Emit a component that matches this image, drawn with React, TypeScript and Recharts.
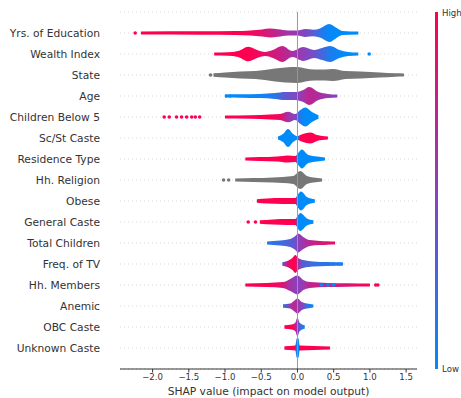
import {
  Area,
  CartesianGrid,
  ComposedChart,
  ReferenceLine,
  Scatter,
  XAxis,
  YAxis,
} from "recharts";

const FEATURES = [
  "Yrs. of Education",
  "Wealth Index",
  "State",
  "Age",
  "Children Below 5",
  "Sc/St Caste",
  "Residence Type",
  "Hh. Religion",
  "Obese",
  "General Caste",
  "Total Children",
  "Freq. of TV",
  "Hh. Members",
  "Anemic",
  "OBC Caste",
  "Unknown Caste",
];

const X_TICKS = [-2, -1.5, -1, -0.5, 0, 0.5, 1, 1.5];

// Each knot: [SHAP value, half spread of the swarm in row units, feature value 0 (low) .. 1 (high)]
// A null feature value means the feature is not coloured (categorical, drawn grey).
type Knot = [number, number, number | null];

const EDUCATION: Knot[] = [
  [-2.16, 0.07, 1], [-1.34, 0.08, 1], [-0.86, 0.09, 1], [-0.65, 0.12, 0.95],
  [-0.49, 0.17, 0.88], [-0.38, 0.21, 0.78], [-0.27, 0.18, 0.7], [-0.13, 0.12, 0.6],
  [0.0, 0.12, 0.55], [0.11, 0.19, 0.45], [0.22, 0.16, 0.33], [0.31, 0.22, 0.15],
  [0.44, 0.43, 0.03], [0.53, 0.26, 0], [0.62, 0.1, 0], [0.84, 0.07, 0],
];
const WEALTH: Knot[] = [
  [-1.15, 0.07, 1], [-0.96, 0.08, 1], [-0.82, 0.14, 1], [-0.68, 0.35, 1],
  [-0.54, 0.17, 0.95], [-0.45, 0.1, 0.88], [-0.34, 0.19, 0.82], [-0.21, 0.38, 0.74],
  [-0.07, 0.14, 0.62], [0.08, 0.33, 0.52], [0.23, 0.19, 0.4], [0.34, 0.29, 0.25],
  [0.45, 0.38, 0.1], [0.58, 0.19, 0.03], [0.7, 0.1, 0], [0.84, 0.07, 0],
];
const STATE: Knot[] = [
  [-1.16, 0.08, null], [-1.0, 0.12, null], [-0.79, 0.17, null], [-0.58, 0.19, null],
  [-0.45, 0.24, null], [-0.31, 0.31, null], [-0.17, 0.36, null], [0.0, 0.38, null],
  [0.11, 0.31, null], [0.24, 0.26, null], [0.38, 0.26, null], [0.49, 0.29, null],
  [0.66, 0.19, null], [0.87, 0.17, null], [1.14, 0.12, null], [1.35, 0.08, null],
  [1.47, 0.07, null],
];
const AGE: Knot[] = [
  [-1.0, 0.07, 0], [-0.79, 0.08, 0], [-0.52, 0.1, 0.05], [-0.31, 0.14, 0.15],
  [-0.17, 0.19, 0.35], [-0.03, 0.19, 0.45], [0.08, 0.29, 0.6], [0.16, 0.43, 0.72],
  [0.29, 0.19, 0.65], [0.42, 0.1, 0.55], [0.55, 0.07, 0.5],
];
const CHILDREN_BELOW_5: Knot[] = [
  [-1.0, 0.07, 1], [-0.65, 0.08, 1], [-0.38, 0.12, 1], [-0.24, 0.14, 0.92],
  [-0.13, 0.25, 0.6], [-0.03, 0.14, 0.5], [0.04, 0.33, 0.1], [0.11, 0.45, 0],
  [0.2, 0.24, 0], [0.29, 0.08, 0],
];
const SCST_CASTE: Knot[] = [
  [-0.27, 0.07, 0], [-0.2, 0.19, 0], [-0.13, 0.43, 0], [-0.06, 0.19, 0],
  [0.0, 0.08, 0], [0.04, 0.14, 1], [0.18, 0.26, 1], [0.27, 0.14, 1],
  [0.34, 0.1, 1], [0.42, 0.07, 1],
];
const RESIDENCE: Knot[] = [
  [-0.72, 0.07, 1], [-0.52, 0.09, 1], [-0.28, 0.12, 1], [-0.14, 0.17, 1],
  [-0.03, 0.14, 1], [0.01, 0.29, 0], [0.06, 0.45, 0], [0.15, 0.19, 0],
  [0.27, 0.12, 0], [0.38, 0.07, 0],
];
const RELIGION: Knot[] = [
  [-0.86, 0.07, null], [-0.61, 0.09, null], [-0.34, 0.12, null], [-0.06, 0.19, null],
  [0.04, 0.43, null], [0.13, 0.19, null], [0.22, 0.12, null], [0.34, 0.07, null],
];
const OBESE: Knot[] = [
  [-0.56, 0.08, 1], [-0.42, 0.12, 1], [-0.2, 0.14, 1], [-0.03, 0.14, 1],
  [0.01, 0.33, 0], [0.05, 0.45, 0], [0.13, 0.19, 0], [0.24, 0.08, 0],
];
const GENERAL_CASTE: Knot[] = [
  [-0.52, 0.08, 1], [-0.34, 0.12, 1], [-0.14, 0.14, 1], [-0.03, 0.14, 1],
  [0.01, 0.33, 0], [0.04, 0.43, 0], [0.13, 0.17, 0], [0.22, 0.08, 0],
];
const TOTAL_CHILDREN: Knot[] = [
  [-0.42, 0.07, 0.15], [-0.24, 0.12, 0.2], [-0.1, 0.19, 0.3], [-0.03, 0.33, 0.4],
  [0.01, 0.45, 0.5], [0.08, 0.29, 0.6], [0.17, 0.14, 0.7], [0.31, 0.1, 0.8],
  [0.41, 0.08, 0.85], [0.52, 0.07, 0.9],
];
const FREQ_TV: Knot[] = [
  [-0.21, 0.08, 0.3], [-0.14, 0.14, 0.85], [-0.07, 0.29, 1], [-0.03, 0.43, 1],
  [0.01, 0.29, 0.6], [0.08, 0.19, 0.3], [0.22, 0.12, 0.2], [0.41, 0.09, 0.15],
  [0.63, 0.07, 0.1],
];
const HH_MEMBERS: Knot[] = [
  [-0.72, 0.07, 1], [-0.42, 0.1, 1], [-0.2, 0.14, 0.85], [-0.1, 0.29, 0.6],
  [0.0, 0.45, 0.5], [0.08, 0.24, 0.55], [0.17, 0.14, 0.75], [0.41, 0.1, 0.7],
  [0.69, 0.08, 0.85], [1.0, 0.07, 1],
];
const ANEMIC: Knot[] = [
  [-0.2, 0.08, 0.1], [-0.1, 0.12, 0.6], [-0.05, 0.24, 0.7], [0.0, 0.36, 0.6],
  [0.06, 0.19, 0.5], [0.13, 0.12, 0.2], [0.22, 0.07, 0],
];
const OBC_CASTE: Knot[] = [
  [-0.18, 0.08, 1], [-0.08, 0.12, 1], [-0.03, 0.2, 0.8], [0.0, 0.45, 0.5],
  [0.03, 0.2, 0.3], [0.1, 0.08, 0],
];
const UNKNOWN_CASTE: Knot[] = [
  [-0.18, 0.08, 1], [-0.03, 0.12, 1], [-0.01, 0.45, 0], [0.015, 0.45, 0],
  [0.03, 0.12, 1], [0.22, 0.1, 1], [0.45, 0.07, 1],
];

const ROWS: Knot[][] = [
  EDUCATION, WEALTH, STATE, AGE, CHILDREN_BELOW_5, SCST_CASTE, RESIDENCE, RELIGION,
  OBESE, GENERAL_CASTE, TOTAL_CHILDREN, FREQ_TV, HH_MEMBERS, ANEMIC, OBC_CASTE, UNKNOWN_CASTE,
];

// isolated samples that sit apart from the swarm: [row, SHAP value, feature value]
const STRAY_POINTS: [number, number, number | null][] = [
  [0, -2.24, 1],
  [1, 0.99, 0],
  [2, -1.2, null],
  [3, -0.98, 0], [3, -0.93, 0],
  [4, -1.84, 1], [4, -1.77, 1], [4, -1.67, 1], [4, -1.6, 1],
  [4, -1.53, 1], [4, -1.46, 1], [4, -1.41, 1], [4, -1.35, 1],
  [7, -1.02, null], [7, -0.95, null],
  [9, -0.68, 1], [9, -0.58, 1],
  [11, 0.5, 0.1], [11, 0.56, 0.1], [11, 0.6, 0.1],
  [12, 0.33, 0], [12, 0.42, 0], [12, 0.5, 0], [12, 1.08, 1], [12, 1.11, 1],
];

const LOW = [0, 139, 251];
const MID = [138, 66, 190];
const HIGH = [255, 0, 81];
const GREY = "#777777";
const FONT = "DejaVu Sans, sans-serif";
const INK = "#333333";

const cmap = (t: number | null) => {
  if (t == null) return GREY;
  const [a, b, s] = t < 0.5 ? [LOW, MID, t * 2] : [MID, HIGH, (t - 0.5) * 2];
  return `rgb(${a.map((v, i) => Math.round(v + (b[i] - v) * s)).join(",")})`;
};

const fmtTick = (v: number) => v.toFixed(1).replace("-", "\u2212");

export default function App() {
  const bands = ROWS.map((knots, row) =>
    knots.map(([x, h]) => ({ x, band: [row - h, row + h] }))
  );
  const strays = STRAY_POINTS.map(([row, x, c]) => ({ x, y: row, c }));

  return (
    <div style={{ position: "absolute", left: 0, top: 0, width: 461, height: 398 }}>
      <ComposedChart
        width={461}
        height={398}
        margin={{ top: 12, right: 44, bottom: 0, left: 0 }}
      >
        <defs>
          {ROWS.map((knots, row) => {
            const lo = knots[0][0];
            const hi = knots[knots.length - 1][0];
            return (
              <linearGradient key={row} id={`swarm-${row}`} x1="0" y1="0" x2="1" y2="0">
                {knots.map(([x, , c], k) => (
                  <stop key={k} offset={(x - lo) / (hi - lo)} stopColor={cmap(c)} />
                ))}
              </linearGradient>
            );
          })}
        </defs>
        <CartesianGrid
          horizontal
          vertical={false}
          stroke="#cccccc"
          strokeWidth={0.8}
          strokeDasharray="1 3"
        />
        <XAxis
          type="number"
          dataKey="x"
          domain={[-2.45, 1.65]}
          allowDataOverflow
          ticks={X_TICKS}
          tickFormatter={fmtTick}
          height={29}
          stroke={INK}
          tickSize={3.5}
          tickMargin={1.5}
          tick={{ fill: INK, fontSize: 8.6, fontFamily: FONT }}
          label={{
            value: "SHAP value (impact on model output)",
            position: "insideBottom",
            offset: 3,
            fill: INK,
            fontSize: 10.7,
            fontFamily: FONT,
          }}
        />
        <YAxis
          type="number"
          dataKey="y"
          domain={[-1, 16]}
          reversed
          allowDataOverflow
          ticks={FEATURES.map((_, i) => i)}
          interval={0}
          tickFormatter={(i: number) => FEATURES[i] ?? ""}
          width={120}
          axisLine={false}
          tickLine={false}
          tickSize={6}
          tickMargin={14}
          tick={{ fill: INK, fontSize: 10.7, fontFamily: FONT }}
        />
        <ReferenceLine x={0} stroke="#999999" strokeWidth={1} />
        {bands.map((data, row) => (
          <Area
            key={FEATURES[row]}
            data={data}
            dataKey="band"
            type="monotone"
            stroke="none"
            fill={`url(#swarm-${row})`}
            fillOpacity={1}
            dot={false}
            activeDot={false}
            isAnimationActive={false}
          />
        ))}
        <Scatter
          data={strays}
          dataKey="y"
          isAnimationActive={false}
          shape={(p: any) => (
            <circle cx={p.cx} cy={p.cy} r={1.8} fill={cmap(p.payload.c)} />
          )}
        />
      </ComposedChart>
      <svg
        width={461}
        height={398}
        style={{ position: "absolute", left: 0, top: 0, pointerEvents: "none" }}
      >
        <defs>
          <linearGradient id="colorbar" x1="0" y1="1" x2="0" y2="0">
            {[0, 0.25, 0.5, 0.75, 1].map((t) => (
              <stop key={t} offset={t} stopColor={cmap(t)} />
            ))}
          </linearGradient>
        </defs>
        <rect x={435} y={12} width={3} height={357} fill="url(#colorbar)" />
        <text x={442} y={13} dy="0.35em" fontSize={8.6} fontFamily={FONT} fill={INK}>
          High
        </text>
        <text x={442} y={369} dy="0.35em" fontSize={8.6} fontFamily={FONT} fill={INK}>
          Low
        </text>
      </svg>
    </div>
  );
}
